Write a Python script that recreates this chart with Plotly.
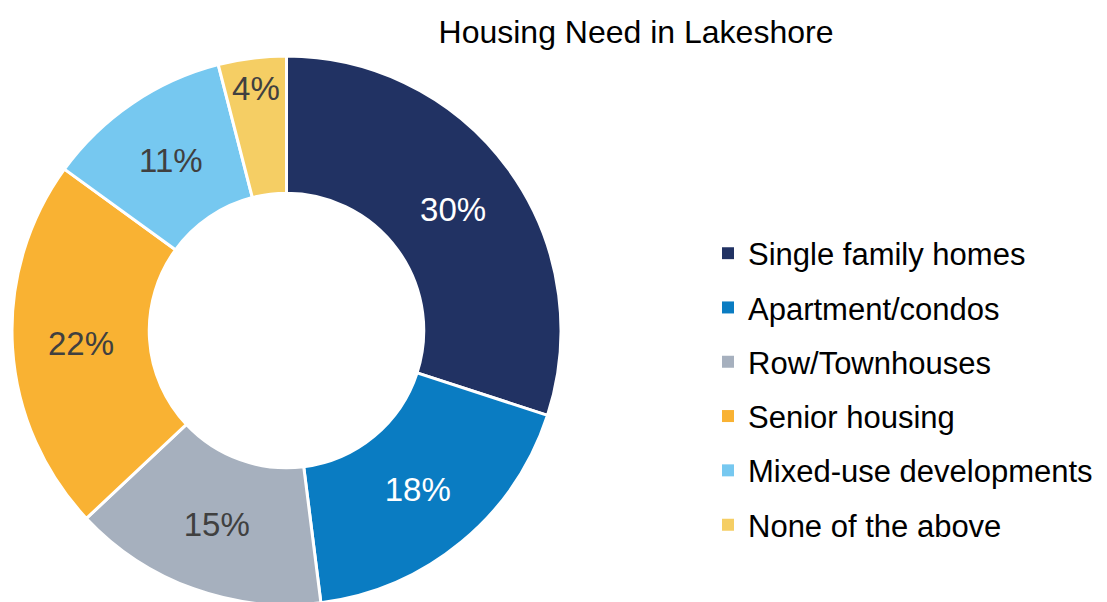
import plotly.graph_objects as go

categories = ["Single family homes", "Apartment/condos", "Row/Townhouses",
              "Senior housing", "Mixed-use developments", "None of the above"]
values = [30, 18, 15, 22, 11, 4]
colors = ["#213263", "#0A7CC2", "#A6B0BE", "#F9B233", "#76C8F0", "#F5CE64"]
text_colors = ["#FFFFFF", "#FFFFFF", "#404040", "#404040", "#404040", "#404040"]
title = "Housing Need in Lakeshore"

W, H = 1107, 602
FONT = "Liberation Sans, Arial"
fig = go.Figure()
fig.add_trace(go.Pie(
    labels=categories, values=values, sort=False, direction="clockwise", rotation=0,
    hole=0.5,
    marker=dict(colors=colors, line=dict(color="white", width=3)),
    texttemplate="%{value}%", textposition="inside",
    insidetextorientation="horizontal",
    textfont=dict(family=FONT, size=33, color=text_colors),
    showlegend=False,
    domain=dict(x=[4 / W, 553 / W], y=[5 / H, 554 / H]),
))
for i, (c, col) in enumerate(zip(categories, colors)):
    fig.add_trace(go.Scatter(
        x=[None], y=[None], mode="markers", name=c, legendgroup=f"g{i}",
        marker=dict(symbol="square", size=12, color=col),
    ))

fig.update_layout(
    width=W, height=H,
    margin=dict(l=0, r=0, t=0, b=0),
    paper_bgcolor="white", plot_bgcolor="white",
    title=dict(text=title, x=628 / W, xanchor="center", y=1 - 24 / H, yanchor="middle",
               font=dict(family=FONT, size=32, color="#000000")),
    xaxis=dict(visible=False), yaxis=dict(visible=False),
    uniformtext=dict(minsize=33, mode="show"),
    legend=dict(x=700 / W, xanchor="left", y=1 - 381 / H, yanchor="middle",
                font=dict(family=FONT, size=31, color="#000000"),
                tracegroupgap=11, bgcolor="rgba(0,0,0,0)"),
    showlegend=True,
)
fig.write_html("out.html")
